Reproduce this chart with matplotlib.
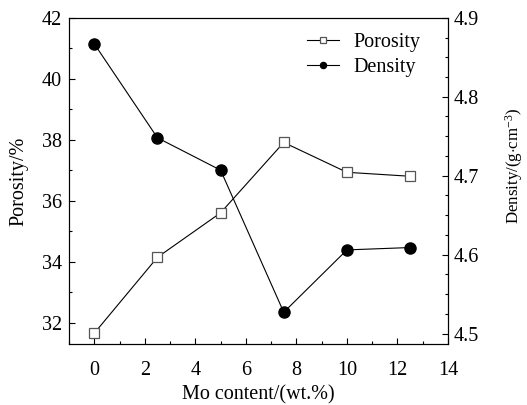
import matplotlib
matplotlib.use("Agg")
import matplotlib.pyplot as plt
from matplotlib.ticker import MultipleLocator, FormatStrFormatter

plt.rcParams['font.family'] = ['Liberation Serif', 'DejaVu Serif']
plt.rcParams['mathtext.fontset'] = 'custom'
plt.rcParams['mathtext.rm'] = 'Liberation Serif'
plt.rcParams['mathtext.it'] = 'Liberation Serif:italic'

mo_content = [0, 2.5, 5, 7.5, 10, 12.5]
porosity = [31.65, 34.14, 35.60, 37.91, 36.93, 36.80]
density = [4.867, 4.748, 4.707, 4.527, 4.606, 4.609]

fig = plt.figure(figsize=(5.27, 4.05), dpi=100)
ax = fig.add_axes([0.131, 0.151, 0.719, 0.805])
ax2 = ax.twinx()

l1, = ax.plot(mo_content, porosity, color='black', lw=0.8, marker='s', ms=7,
              mfc='white', mec='#555555', mew=0.9, label='Porosity')
l2, = ax2.plot(mo_content, density, color='black', lw=0.8, marker='o', ms=8,
               mfc='black', mec='black', label='Density')

ax.set_xlim(-1, 14)
ax.set_ylim(31.3, 42)
ax2.set_ylim(4.487, 4.9)

ax.xaxis.set_major_locator(MultipleLocator(2))
ax.xaxis.set_minor_locator(MultipleLocator(1))
ax.yaxis.set_major_locator(MultipleLocator(2))
ax.yaxis.set_minor_locator(MultipleLocator(1))
ax2.yaxis.set_major_locator(MultipleLocator(0.1))
ax2.yaxis.set_minor_locator(MultipleLocator(0.025))
ax2.yaxis.set_major_formatter(FormatStrFormatter('%.1f'))

for a in (ax, ax2):
    a.tick_params(which='major', direction='in', length=4, width=0.8, labelsize=14.5)
    a.tick_params(which='minor', direction='in', length=2.5, width=0.8)
ax.tick_params(axis='both', top=False, right=False)
ax.tick_params(axis='x', pad=12)
ax.tick_params(axis='y', pad=5)
ax2.tick_params(axis='y', pad=4)

ax.set_xlabel('Mo content/(wt.%)', fontsize=14.5, labelpad=4)
ax.set_ylabel('Porosity/%', fontsize=14.5)
ax.yaxis.set_label_coords(-0.108, 0.5)
ax2.set_ylabel(r'Density/(g$\cdot$cm$^{-3}$)', fontsize=12.2)
ax2.yaxis.set_label_coords(1.146, 0.546)

leg = ax.legend([l1, l2], ['Porosity', 'Density'], loc='upper left',
                bbox_to_anchor=(0.628, 0.955), frameon=False, fontsize=14.5,
                markerscale=0.55, handlelength=1.6, handletextpad=0.7,
                labelspacing=0.3, borderpad=0, borderaxespad=0)

fig.savefig('out.png', dpi=100)
